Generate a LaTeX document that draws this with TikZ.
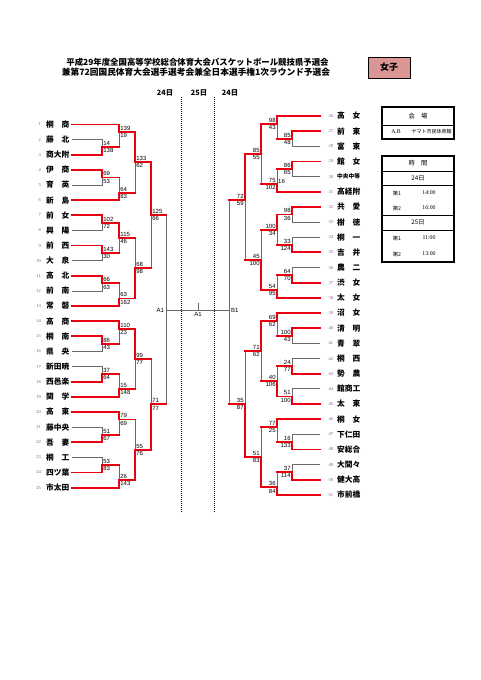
\documentclass[tikz,border=0pt]{standalone}
\usepackage{fontspec}
\setmainfont{Liberation Serif}
\setsansfont{Liberation Sans}
\newfontfamily\jp{Noto Sans CJK JP}
\definecolor{winred}{RGB}{232,0,16}
\definecolor{losegray}{RGB}{105,105,105}
\definecolor{tagpink}{RGB}{217,150,148}
\begin{document}
\begin{tikzpicture}[x=1pt, y=-1pt,
    win/.style={draw=winred, line width=1.9pt, line cap=rect},
    lose/.style={draw=losegray, line width=0.8pt},
    dotline/.style={line width=0.9pt, dash pattern=on 0.9pt off 1.1pt},
    team/.style={font=\jp\bfseries\fontsize{7.7}{8}\selectfont, inner sep=0pt},
    tnum/.style={font=\fontsize{4.5}{5}\selectfont, text=black!60, inner sep=0pt},
    score/.style={font=\sffamily\fontsize{6}{6}\selectfont, inner sep=0.4pt},
    cell/.style={font=\jp\fontsize{6.3}{7}\selectfont, inner sep=0pt},
    small/.style={font=\jp\fontsize{5.3}{6}\selectfont, inner sep=0pt},
    clock/.style={font=\fontsize{5.8}{6}\selectfont, inner sep=0pt}]
\useasboundingbox (0,0) rectangle (481,680);

% title
\node[font=\jp\bfseries\fontsize{8.4}{9}\selectfont, inner sep=0pt] (title1) at (197.5,62)
    {平成29年度全国高等学校総合体育大会バスケットボール競技県予選会};
\node[font=\jp\bfseries\fontsize{8.7}{9}\selectfont, inner sep=0pt] (title2) at (196,72.5)
    {兼第72回国民体育大会選手選考会兼全日本選手権1次ラウンド予選会};
\node[draw, line width=1pt, fill=tagpink, minimum width=42pt, minimum height=21pt,
    font=\jp\bfseries\fontsize{9}{9}\selectfont] (tag) at (389,67.5) {女子};

% days
\node[font=\jp\bfseries\fontsize{7.3}{8}\selectfont, inner sep=0pt] (day1) at (165,93) {24日};
\node[font=\jp\bfseries\fontsize{7.3}{8}\selectfont, inner sep=0pt] (day2) at (199,93) {25日};
\node[font=\jp\bfseries\fontsize{7.3}{8}\selectfont, inner sep=0pt] (day3) at (230,93) {24日};
\draw[dotline] (181,97) -- (181,513);
\draw[dotline] (214,97) -- (214,513);

% teams
\foreach \i/\nm in {1/桐　商, 2/藤　北, 3/商大附, 4/伊　商, 5/育　英, 6/新　島,
    7/前　女, 8/興　陽, 9/前　西, 10/大　泉, 11/高　北, 12/前　南, 13/常　磐,
    14/高　商, 15/桐　南, 16/県　央, 17/新田暁, 18/西邑楽, 19/関　学, 20/高　東,
    21/藤中央, 22/吾　妻, 23/桐　工, 24/四ツ葉, 25/市太田} {
  \pgfmathsetmacro\ty{124.5+(\i-1)*15.13}
  \coordinate (L\i) at (72,\ty);
  \node[team, anchor=east] (nL\i) at (69.5,\ty) {\nm};
  \node[tnum, anchor=east] (kL\i) at (41,\ty) {\i};
}
\foreach \i/\nm in {26/高　女, 27/前　東, 28/富　東, 29/館　女,
    30/{\fontsize{5.7}{6}\selectfont 中央中等}, 31/高経附, 32/共　愛, 33/樹　徳,
    34/桐　一, 35/吉　井, 36/農　二, 37/渋　女, 38/太　女, 39/沼　女, 40/清　明,
    41/青　翠, 42/桐　西, 43/勢　農, 44/館商工, 45/太　東, 46/桐　女, 47/下仁田,
    48/安総合, 49/大間々, 50/健大高, 51/市前橋} {
  \pgfmathsetmacro\ty{116+(\i-26)*15.16}
  \coordinate (R\i) at (320,\ty);
  \node[team, anchor=west] (nR\i) at (337,\ty) {\nm};
  \node[tnum, anchor=west] (kR\i) at (328.5,\ty) {\i};
}

% matches, left
\foreach \mt/\xx/\yy/\scA/\scB in {
    la/102/147.2/14/138, lb/119/132.1/139/19, lc/102/177.5/69/53, ld/119/192.6/64/83,
    le/135/162.3/133/62, lf/102/222.8/102/72, lg/102/253.1/143/30, lh/119/238.0/115/46,
    li/102/283.4/66/63, lj/119/298.5/63/162, lk/135/268.2/68/98, ll/151/215.2/125/66,
    lm/102/343.9/86/43, ln/119/328.8/110/23, lo/102/374.1/37/64, lp/119/389.3/15/148,
    lq/135/359.0/99/77, lr/102/434.7/51/67, ls/119/419.5/79/69, lt/102/464.9/53/83,
    lu/119/480.1/26/143, lv/135/449.8/55/76, lw/151/404.4/71/77} {
  \coordinate (\mt) at (\xx,\yy);
  \node[score, anchor=south west, xshift=0.8pt, yshift=0.9pt] (\mt-a) at (\mt) {\scA};
  \node[score, anchor=north west, xshift=0.8pt, yshift=-0.9pt] (\mt-b) at (\mt) {\scB};
}
% matches, right
\foreach \mt/\xx/\yy/\scA/\scB in {
    ra/292/138.7/85/48, rb/277/123.6/98/43, rc/292/169.1/86/65, rd/277/184.2/75/102,
    re/261/153.9/85/55, rf/292/214.5/98/36, rg/292/244.9/33/124, rh/277/229.7/100/34,
    ri/292/275.2/64/70, rj/277/290.3/54/95, rk/261/260.0/45/100, rl/245/200.0/72/59,
    rm/292/335.8/100/43, rn/277/320.7/69/62, ro/292/366.1/24/77, rp/292/396.5/51/100,
    rq/277/381.3/40/106, rr/261/351.0/71/62, rs/292/441.9/16/133, rt/277/426.8/77/25,
    ru/292/472.3/37/114, rv/277/487.4/36/84, rw/261/457.1/51/83, rx/245/404.1/35/87} {
  \coordinate (\mt) at (\xx,\yy);
  \node[score, anchor=south east, xshift=-0.8pt, yshift=0.9pt] (\mt-a) at (\mt) {\scA};
  \node[score, anchor=north east, xshift=-0.8pt, yshift=-0.9pt] (\mt-b) at (\mt) {\scB};
}
\node[score, anchor=west] (extra16) at (277.6,181.6) {16};

% final
\coordinate (A1) at (166,310);
\coordinate (B1) at (229,310);
\coordinate (fin) at (198,310);

% lost lines first
\foreach \src/\dst in {L2/la, L5/lc, L8/lf, L10/lg, L12/li, L16/lm, L17/lo, L21/lr, L23/lt,
    R28/ra, R30/rc, R33/rf, R34/rg, R36/ri, R41/rm, R42/ro, R44/rp, R47/rs, R49/ru}
  \draw[lose] (\src) -| (\dst);
\foreach \src/\dst in {la/lb, lc/ld, ld/le, lg/lh, li/lj, lh/lk, lk/ll, lm/ln, lo/lp,
    lp/lq, lr/ls, lt/lu, ls/lv, lq/lw, ll/A1, lw/A1,
    ra/rb, rc/rd, rd/re, rg/rh, ri/rj, rh/rk, rk/rl, rm/rn, ro/rq, rq/rr, rs/rt,
    ru/rv, rt/rw, rr/rx, rl/B1, rx/B1}
  \draw[lose] (\src -| \dst) -- (\dst);
\draw[lose] (A1) -- (B1);
\draw[lose] (fin) -- ++(0,-7);
\node[score, anchor=east] (labA) at ([xshift=-1.5pt]A1) {A1};
\node[score, anchor=west] (labB) at ([xshift=1.5pt]B1) {B1};
\node[score, anchor=north] (labF) at ([yshift=-1.8pt]fin) {A1};

% winners in red
\foreach \src/\dst in {L3/la, L1/lb, L4/lc, L6/ld, L7/lf, L9/lg, L11/li, L13/lj, L15/lm,
    L14/ln, L18/lo, L19/lp, L22/lr, L20/ls, L24/lt, L25/lu,
    R27/ra, R26/rb, R29/rc, R31/rd, R32/rf, R35/rg, R37/ri, R38/rj, R40/rm, R39/rn,
    R43/ro, R45/rp, R48/rs, R46/rt, R50/ru, R51/rv}
  \draw[win] (\src) -| (\dst);
\foreach \src/\dst in {la/lb, lc/ld, ld/le, lg/lh, li/lj, lh/lk, lk/ll, lm/ln, lo/lp,
    lp/lq, lr/ls, lt/lu, ls/lv, lq/lw, ll/A1, lw/A1,
    ra/rb, rc/rd, rd/re, rg/rh, ri/rj, rh/rk, rk/rl, rm/rn, ro/rq, rq/rr, rs/rt,
    ru/rv, rt/rw, rr/rx, rl/B1, rx/B1}
  \draw[win] (\src) -- (\src -| \dst);
\foreach \src/\dst in {lb/le, lf/lh, lj/lk, le/ll, ln/lq, lu/lv, lv/lw,
    rb/re, rf/rh, rj/rk, re/rl, rn/rr, rp/rq, rv/rw, rw/rx}
  \draw[win] (\src) -| (\dst);

% venue
\draw[line width=1.1pt] (382,107) rectangle (454,139);
\draw[line width=0.9pt] (382,125) -- (454,125);
\node[cell] (venue) at (418,116) {会　場};
\node[clock] (courts) at (396,132) {A.B};
\node[font=\jp\fontsize{5}{5}\selectfont, inner sep=0pt] (hall) at (431.5,132) {ヤマト市民体育館};

% times
\draw[line width=1.1pt] (382,156) rectangle (454,262);
\foreach \yy in {171,185,215,230}
  \draw[line width=0.9pt] (382,\yy) -- (454,\yy);
\node[cell] (hdr) at (418,163.5) {時　間};
\node[cell] (dayA) at (418,178) {24日};
\node[cell] (dayB) at (418,222.5) {25日};
\foreach \k/\yy/\rnd/\hr in {1/193/第1/14:00, 2/208/第2/16:00, 3/238/第1/11:00, 4/254/第2/13:00} {
  \node[small] (rnd\k) at (397,\yy) {\rnd};
  \node[clock] (hr\k) at (429,\yy) {\hr};
}
\end{tikzpicture}
\end{document}
